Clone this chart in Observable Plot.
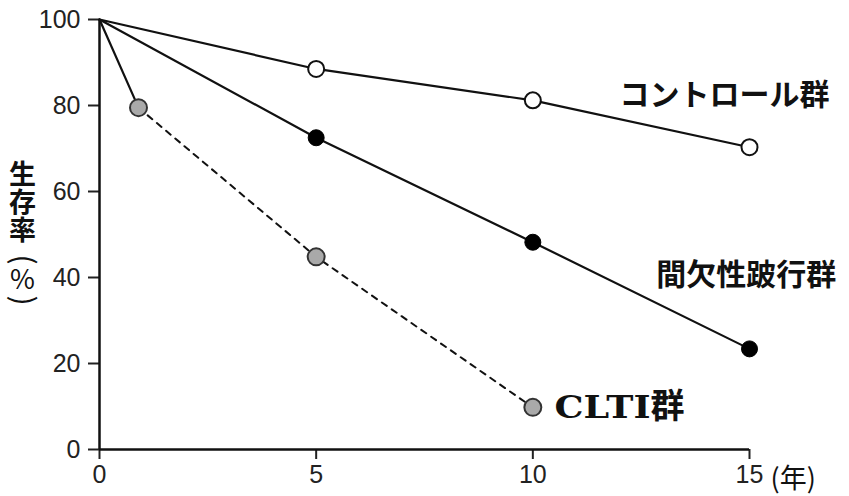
<!DOCTYPE html>
<html><head><meta charset="utf-8">
<script src="https://cdn.jsdelivr.net/npm/d3@7"></script>
<script src="https://cdn.jsdelivr.net/npm/@observablehq/plot@0.6"></script>
<style>body{margin:0;background:#fff}</style>
</head><body><div id="chart"></div>
<script>
const years = [0, 5, 10, 15];
const controlValues = [100, 88.5, 81.2, 70.3];
const claudValues = [100, 72.5, 48.2, 23.4];
const cltiYears = [0, 0.9, 5, 10];
const cltiValues = [100, 79.5, 44.8, 9.8];
const xTicks = [0, 5, 10, 15];
const yTicks = [0, 20, 40, 60, 80, 100];
const groupNames = ["コントロール群", "間欠性跛行群", "CLTI"];
const groupSuffix = "群";
const yLabelChars = ["生", "存", "率", "(", "%", ")"];
const xUnit = "(年)";

const control = years.map((x, i) => ({x, y: controlValues[i]}));
const claud = years.map((x, i) => ({x, y: claudValues[i]}));
const clti = cltiYears.map((x, i) => ({x, y: cltiValues[i]}));

const cjk = "'Noto Sans CJK JP', sans-serif";
// layout of the stacked y-axis title: offsets (px) from the frame's middle, rotation, size, weight
const yLabelOffsets = [-59, -31, -3, 25, 46, 66];
const yLabelRotate = [0, 0, 0, 90, 0, 90];
const yLabelSize = [27, 27, 27, 30, 27, 30];
const yLabelWeight = ["bold", "bold", "bold", "normal", "normal", "normal"];

const chart = Plot.plot({
  width: 849, height: 496,
  marginLeft: 99, marginRight: 100, marginTop: 19, marginBottom: 47,
  x: {domain: [0, 15]},
  y: {domain: [0, 100]},
  style: {fontFamily: "'Liberation Sans', Arial, sans-serif", fontSize: "25px", background: "#fff"},
  marks: [
    Plot.axisX({ticks: xTicks, tickSize: 10, tickPadding: 6, strokeWidth: 2, label: null, color: "#222", fontSize: 25}),
    Plot.axisY({ticks: yTicks, tickSize: 11, tickPadding: 8, strokeWidth: 2, label: null, color: "#222", fontSize: 25}),
    Plot.ruleY([0], {stroke: "#111", strokeWidth: 2.5}),
    Plot.ruleX([0], {stroke: "#111", strokeWidth: 2.5}),
    Plot.line(control, {x: "x", y: "y", stroke: "#111", strokeWidth: 2.2}),
    Plot.line(claud, {x: "x", y: "y", stroke: "#111", strokeWidth: 2.2}),
    Plot.line(clti.slice(0, 2), {x: "x", y: "y", stroke: "#111", strokeWidth: 2.2}),
    Plot.line(clti.slice(1), {x: "x", y: "y", stroke: "#111", strokeWidth: 2, strokeDasharray: "6,6"}),
    Plot.dot(control.slice(1), {x: "x", y: "y", r: 8, fill: "#fff", stroke: "#111", strokeWidth: 2}),
    Plot.dot(claud.slice(1), {x: "x", y: "y", r: 8, fill: "#000", stroke: "#000", strokeWidth: 1}),
    Plot.dot(clti.slice(1), {x: "x", y: "y", r: 8.5, fill: "#a9a9a9", stroke: "#333", strokeWidth: 2}),
    Plot.text([groupNames[0]], {x: 12.0, y: 82.3, text: d => d, textAnchor: "start", fontSize: 30, fontWeight: "bold", fontFamily: cjk, fill: "#111"}),
    Plot.text([groupNames[1]], {x: 12.85, y: 40.5, text: d => d, textAnchor: "start", fontSize: 30, fontWeight: "bold", fontFamily: cjk, fill: "#111"}),
    Plot.text([groupNames[2]], {x: 10.5, y: 9.6, text: d => d, textAnchor: "start", fontSize: 31, fontWeight: "bold", fontFamily: "'DejaVu Serif', serif", fill: "#111", className: "clti-label"}),
    ...yLabelChars.map((c, i) => Plot.text([c], {frameAnchor: "left", dx: -77, dy: yLabelOffsets[i], rotate: yLabelRotate[i], text: d => d, textAnchor: "middle", lineAnchor: "middle", fontSize: yLabelSize[i], fontWeight: yLabelWeight[i], fontFamily: cjk, fill: "#111"})),
    Plot.text([xUnit], {x: 15, y: 0, dx: 21, dy: 30, text: d => d, textAnchor: "start", fontSize: 27, fontFamily: cjk, fill: "#111"})
  ]
});
document.getElementById("chart").append(chart);
// stretch the slab-serif CLTI label to the reference width and append the CJK suffix in its own font
const t = chart.querySelector(".clti-label text");
if (t) {
  const word = t.textContent;
  t.textContent = "";
  const ns = "http://www.w3.org/2000/svg";
  const a = document.createElementNS(ns, "tspan");
  a.textContent = word;
  a.setAttribute("textLength", "96");
  a.setAttribute("lengthAdjust", "spacingAndGlyphs");
  t.appendChild(a);
  const b = document.createElementNS(ns, "tspan");
  b.textContent = groupSuffix;
  b.setAttribute("font-family", cjk);
  b.setAttribute("font-size", "34");
  t.appendChild(b);
}
</script></body></html>
